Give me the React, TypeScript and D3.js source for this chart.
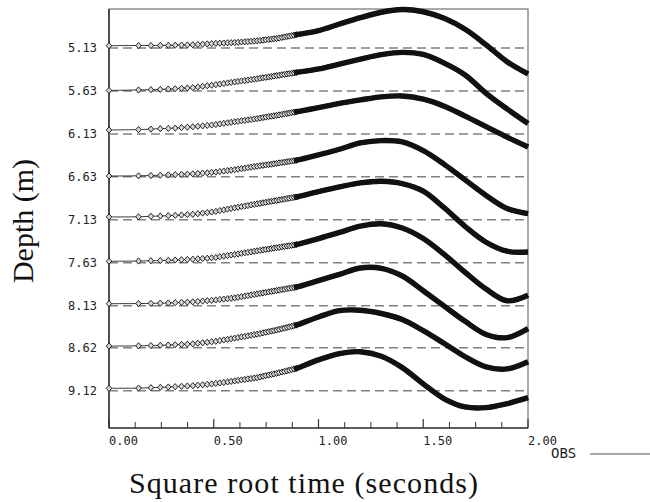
import React from "react";
import * as d3 from "d3";

// ---------- data ----------
const DEPTHS = [5.13, 5.63, 6.13, 6.63, 7.13, 7.63, 8.13, 8.62, 9.12];
const DEPTH_LABELS = ["5.13", "5.63", "6.13", "6.63", "7.13", "7.63", "8.13", "8.62", "9.12"];

const X_MAJOR = [0, 0.5, 1, 1.5, 2];
const X_MAJOR_LABELS = ["0.00", "0.50", "1.00", "1.50", "2.00"];
const X_MINOR = [0.125, 0.25, 0.375, 0.625, 0.75, 0.875, 1.125, 1.25, 1.375, 1.625, 1.75, 1.875];

// square-root time of the early observations (seconds^0.5)
const OBS_SQRT_TIME = [
  0, 0.141, 0.2, 0.245, 0.283, 0.316, 0.346, 0.374, 0.4, 0.424, 0.447, 0.469, 0.49, 0.51,
  0.529, 0.548, 0.566, 0.583, 0.6, 0.616, 0.632, 0.648, 0.663, 0.678, 0.693, 0.707, 0.721,
  0.735, 0.748, 0.762, 0.775, 0.787, 0.8, 0.812, 0.825, 0.837, 0.849, 0.86, 0.872, 0.883, 0.894,
];
// square-root time of the later (dense) part of the records
const LATE_SQRT_TIME = [1.0, 1.1, 1.2, 1.3, 1.4, 1.5, 1.6, 1.7, 1.8, 1.9, 2.0];

// trace amplitude (one trace spacing = 43 units)
const EARLY_513 = [2.3, 2.5, 2.5, 2.6, 2.7, 2.8, 2.9, 3.1, 3.2, 3.5, 3.8, 4.1, 4.4, 4.6, 4.8, 5.0, 5.2, 5.3, 5.5, 5.7, 6.0, 6.2, 6.4, 6.7, 6.9, 7.2, 7.5, 7.9, 8.2, 8.6, 8.9, 9.2, 9.5, 10.0, 10.5, 11.0, 11.5, 11.9, 12.4, 12.8, 13.3];
const LATE_513 = [17.4, 24, 30.4, 35.8, 38.5, 36.3, 29.7, 18.7, 3.2, -13.7, -26];

const EARLY_563 = [0.5, 1.0, 1.3, 1.6, 1.9, 2.2, 2.6, 3.0, 3.3, 3.9, 4.6, 5.2, 5.7, 6.3, 6.9, 7.4, 8.0, 8.5, 9.0, 9.5, 10.0, 10.4, 10.9, 11.3, 11.8, 12.2, 12.7, 13.2, 13.6, 14.0, 14.5, 14.9, 15.3, 15.7, 16.2, 16.6, 17.0, 17.3, 17.7, 18.1, 18.5];
const LATE_563 = [22, 26.9, 31.8, 36.3, 38.6, 36.5, 27.9, 16, -2.4, -18, -32.5];

const EARLY_613 = [3.9, 4.3, 4.8, 5.2, 5.5, 5.8, 6.3, 6.7, 7.1, 7.6, 8.0, 8.5, 8.9, 9.4, 10.0, 10.5, 11.1, 11.6, 12.1, 12.6, 13.1, 13.5, 14.0, 14.4, 14.9, 15.3, 15.8, 16.3, 16.8, 17.3, 17.7, 18.1, 18.6, 19.0, 19.5, 20.0, 20.4, 20.8, 21.3, 21.7, 22.1];
const LATE_613 = [26.3, 30.5, 34, 37.1, 37.9, 34.7, 27.7, 17.8, 7.3, -3.2, -13.1];

const EARLY_663 = [0.8, 1.0, 1.3, 1.6, 1.9, 2.2, 2.5, 2.7, 3.0, 3.4, 3.7, 4.0, 4.4, 4.8, 5.3, 5.8, 6.3, 6.7, 7.2, 7.7, 8.2, 8.7, 9.2, 9.7, 10.2, 10.6, 11.1, 11.5, 11.9, 12.3, 12.7, 13.1, 13.5, 13.9, 14.3, 14.7, 15.1, 15.4, 15.8, 16.2, 16.5];
const LATE_663 = [21.9, 27.6, 33.9, 36.3, 34.9, 26.2, 12.5, -3.1, -18.7, -31.8, -36.8];

const EARLY_713 = [2.8, 3.0, 3.5, 3.8, 4.1, 4.4, 4.8, 5.2, 5.5, 6.1, 6.7, 7.2, 7.8, 8.4, 9.2, 9.9, 10.6, 11.3, 12.0, 12.6, 13.2, 13.8, 14.3, 14.9, 15.4, 16.0, 16.5, 17.0, 17.5, 18.0, 18.5, 18.9, 19.4, 19.8, 20.3, 20.7, 21.2, 21.6, 22.0, 22.4, 22.8];
const LATE_713 = [28.2, 33, 37, 38.6, 36.3, 28.7, 12, -6.7, -22.5, -31.5, -32.2];

const EARLY_763 = [1.5, 1.7, 2.0, 2.2, 2.4, 2.7, 3.0, 3.2, 3.5, 3.9, 4.2, 4.5, 4.9, 5.3, 6.0, 6.6, 7.2, 7.7, 8.3, 8.8, 9.4, 9.9, 10.4, 10.9, 11.5, 11.9, 12.4, 12.9, 13.3, 13.7, 14.2, 14.6, 15.0, 15.4, 15.9, 16.3, 16.7, 17.0, 17.4, 17.8, 18.2];
const LATE_763 = [24.2, 30.3, 36.6, 39, 34.7, 24.2, 8.3, -9.6, -26.4, -38.1, -32.5];

const EARLY_813 = [2.0, 2.1, 2.3, 2.5, 2.7, 3.0, 3.3, 3.5, 3.8, 4.2, 4.6, 5.0, 5.3, 5.7, 6.2, 6.6, 7.0, 7.4, 7.8, 8.4, 9.0, 9.6, 10.1, 10.7, 11.2, 11.8, 12.3, 12.8, 13.3, 13.8, 14.3, 14.7, 15.2, 15.6, 16.1, 16.5, 17.0, 17.4, 17.8, 18.2, 18.6];
const LATE_813 = [25.1, 31.4, 37.7, 37.4, 29.7, 15, -0.5, -15.7, -28.8, -32, -23];

const EARLY_862 = [1.7, 1.9, 2.2, 2.5, 2.7, 3.0, 3.3, 3.6, 3.9, 4.5, 5.0, 5.5, 6.0, 6.5, 7.2, 7.8, 8.4, 9.0, 9.6, 10.2, 10.8, 11.4, 11.9, 12.5, 13.0, 13.6, 14.2, 14.9, 15.5, 16.1, 16.7, 17.2, 17.8, 18.4, 19.1, 19.7, 20.3, 20.9, 21.5, 22.1, 22.7];
const LATE_862 = [30.8, 37.2, 37.6, 34.3, 28.2, 17.1, 4.3, -9, -19.2, -21.2, -14];

const EARLY_912 = [2.4, 2.6, 3.0, 3.4, 3.7, 4.0, 4.4, 4.7, 5.0, 5.5, 5.9, 6.4, 6.8, 7.3, 7.8, 8.3, 8.8, 9.3, 9.8, 10.3, 10.8, 11.3, 11.8, 12.2, 12.7, 13.1, 13.8, 14.5, 15.1, 15.7, 16.3, 16.8, 17.4, 18.0, 18.7, 19.3, 19.9, 20.5, 21.1, 21.7, 22.3];
const LATE_912 = [30.9, 37.2, 39, 34.5, 23.1, 6.8, -8.1, -16.3, -17, -13, -7];

const EARLY = [EARLY_513, EARLY_563, EARLY_613, EARLY_663, EARLY_713, EARLY_763, EARLY_813, EARLY_862, EARLY_912];
const LATE = [LATE_513, LATE_563, LATE_613, LATE_663, LATE_713, LATE_763, LATE_813, LATE_862, LATE_912];

// ---------- layout ----------
const W = 650;
const H = 502;
const PLOT = { left: 109, right: 528, top: 9, bottom: 428 };

export default function App() {
  const x = d3.scaleLinear().domain([0, 2]).range([PLOT.left, PLOT.right]);
  const y = d3.scaleLinear().domain([5.13, 9.12]).range([48, 390.7]);
  const spacing = y(5.63) - y(5.13);
  const amp = d3.scaleLinear().domain([0, 43]).range([0, spacing]);

  const traces = DEPTHS.map((depth, i) => {
    const early = OBS_SQRT_TIME.map((s, k) => [s, EARLY[i][k]] as [number, number]);
    const late = LATE_SQRT_TIME.map((s, k) => [s, LATE[i][k]] as [number, number]);
    return { depth, pts: early.concat(late), early };
  });

  const lineFor = (depth: number) =>
    d3
      .line<[number, number]>()
      .x((p) => x(p[0]))
      .y((p) => y(depth) - amp(p[1]))
      .curve(d3.curveCatmullRom.alpha(0.5));

  const diamond = "M0,-3.1L2.7,0L0,3.1L-2.7,0Z";
  const labelFont = "'DejaVu Sans Mono', monospace";
  const titleFont = "'Liberation Serif', 'Times New Roman', serif";

  return (
    <svg width={W} height={H} style={{ position: "absolute", left: 0, top: 0, background: "#fff" }}>
      <rect x={0} y={0} width={W} height={H} fill="#fff" />
      {/* frame */}
      <rect
        x={PLOT.left}
        y={PLOT.top}
        width={PLOT.right - PLOT.left}
        height={PLOT.bottom - PLOT.top}
        fill="none"
        stroke="#555"
        strokeWidth={1}
      />
      <line x1={PLOT.left} x2={PLOT.left} y1={PLOT.top} y2={PLOT.bottom} stroke="#111" strokeWidth={1.2} />
      <line x1={PLOT.left} x2={PLOT.right} y1={PLOT.bottom} y2={PLOT.bottom} stroke="#111" strokeWidth={1.2} />

      {/* x ticks */}
      {X_MAJOR.map((v) => (
        <line key={"M" + v} x1={x(v)} x2={x(v)} y1={PLOT.bottom} y2={PLOT.bottom - 9} stroke="#333" strokeWidth={1.2} />
      ))}
      {X_MINOR.map((v) => (
        <line key={"m" + v} x1={x(v)} x2={x(v)} y1={PLOT.bottom} y2={PLOT.bottom - 6} stroke="#333" strokeWidth={1} />
      ))}
      {X_MAJOR.map((v, i) => (
        <text key={"L" + v} x={x(v)} y={445} fontFamily={labelFont} fontSize={12} fill="#222">
          {X_MAJOR_LABELS[i]}
        </text>
      ))}

      {/* y labels */}
      {DEPTHS.map((d, i) => (
        <text key={"Y" + d} x={97} y={y(d)} dy="0.36em" textAnchor="end" fontFamily={labelFont} fontSize={12} fill="#222">
          {DEPTH_LABELS[i]}
        </text>
      ))}

      {/* baselines */}
      {DEPTHS.map((d) => (
        <line
          key={"B" + d}
          x1={PLOT.left}
          x2={PLOT.right}
          y1={y(d)}
          y2={y(d)}
          stroke="#808080"
          strokeWidth={1.5}
          strokeDasharray="9 5"
        />
      ))}

      {/* traces */}
      {traces.map((t) => {
        const line = lineFor(t.depth);
        const chain = t.pts.filter((p) => p[0] >= 0.72);
        const band = t.pts.filter((p) => p[0] >= 0.883);
        return (
          <g key={"T" + t.depth}>
            <path d={line(t.pts) || ""} fill="none" stroke="#333" strokeWidth={1} />
            <path d={line(chain) || ""} fill="none" stroke="#222" strokeWidth={4.4} strokeLinecap="butt" />
            {t.early.map((p, k) => (
              <path
                key={k}
                d={diamond}
                transform={`translate(${x(p[0])},${y(t.depth) - amp(p[1])})`}
                fill="#d8d8d8"
                stroke="#111"
                strokeWidth={0.9}
              />
            ))}
            <path
              d={line(band) || ""}
              fill="none"
              stroke="#111"
              strokeWidth={5.4}
              strokeLinecap="butt"
              strokeLinejoin="round"
            />
          </g>
        );
      })}

      {/* axis titles */}
      <text
        x={129}
        y={493}
        fontFamily={titleFont}
        fontSize={30}
        fill="#111"
        textLength={349}
        lengthAdjust="spacing"
      >
        Square root time (seconds)
      </text>
      <text
        transform={`translate(33, 221) rotate(-90)`}
        textAnchor="middle"
        fontFamily={titleFont}
        fontSize={30}
        fill="#111"
      >
        Depth (m)
      </text>

      {/* legend */}
      <text x={551} y={458} fontFamily={labelFont} fontSize={14} fill="#222">
        OBS
      </text>
      <line x1={590} x2={650} y1={454} y2={454} stroke="#888" strokeWidth={1.5} />
    </svg>
  );
}
